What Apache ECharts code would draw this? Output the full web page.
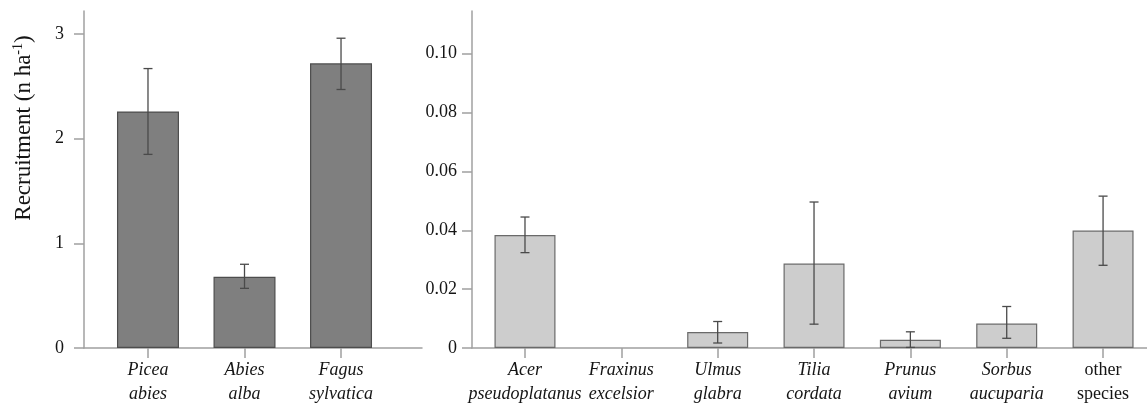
<!DOCTYPE html>
<html>
<head>
<meta charset="utf-8">
<script src="https://cdn.jsdelivr.net/npm/echarts@6/dist/echarts.min.js"></script>
<style>html,body{margin:0;padding:0;background:#fff}#c{width:1147px;height:406px}</style>
</head>
<body>
<div id="c"></div>
<script>
// ---- data ----
var leftCats = ['Picea abies', 'Abies alba', 'Fagus sylvatica'];
var leftMean = [2.26, 0.68, 2.72];
var leftLow  = [1.85, 0.57, 2.47];
var leftHigh = [2.67, 0.80, 2.96];
var leftTicks = [0, 1, 2, 3];

var rightCats = ['Acer pseudoplatanus', 'Fraxinus excelsior', 'Ulmus glabra', 'Tilia cordata', 'Prunus avium', 'Sorbus aucuparia', 'other species'];
var rightMean = [0.0384, 0, 0.0054, 0.0287, 0.0028, 0.0083, 0.0399];
var rightLow  = [0.0324, null, 0.0017, 0.0081, 0.0002, 0.0033, 0.0281];
var rightHigh = [0.0445, null, 0.0090, 0.0496, 0.0055, 0.0141, 0.0516];
var rightTicks = [0, 0.02, 0.04, 0.06, 0.08, 0.10];

var yTitle = 'Recruitment (n ha';

// ---- build ----
var FONT = 'Liberation Serif';
var AX = '#a0a0a0';
var TXT = '#151515';
function idx(arr) { return arr.map(function (_, i) { return i; }); }
function barData(m) {
  return m.map(function (v, i) {
    return v === 0 ? { value: [i, v], itemStyle: { borderWidth: 0 } } : [i, v];
  });
}
function errData(lo, hi) {
  var out = [];
  lo.forEach(function (v, i) { if (v != null && hi[i] != null) out.push([i, v, hi[i]]); });
  return out;
}
function catFormatter(cats) {
  return function (v) {
    var name = cats[Math.round(v)] || '';
    var parts = name.split(' ');
    var style = name === 'other species' ? 'n' : 'i';
    return parts.map(function (p) { return '{' + style + '|' + p + '}'; }).join('\n');
  };
}
function renderErr(params, api) {
  var x = api.value(0);
  var lo = api.coord([x, api.value(1)]);
  var hi = api.coord([x, api.value(2)]);
  var w = 4.5;
  var st = { stroke: '#4a4a4a', lineWidth: 1.3 };
  return {
    type: 'group',
    children: [
      { type: 'line', shape: { x1: hi[0], y1: hi[1], x2: lo[0], y2: lo[1] }, style: st },
      { type: 'line', shape: { x1: hi[0] - w, y1: hi[1], x2: hi[0] + w, y2: hi[1] }, style: st },
      { type: 'line', shape: { x1: lo[0] - w, y1: lo[1], x2: lo[0] + w, y2: lo[1] }, style: st }
    ]
  };
}
function xAxisDef(gi, cats, min, max) {
  return {
    type: 'value', gridIndex: gi, min: min, max: max,
    splitLine: { show: false },
    axisLine: { show: true, onZero: false, lineStyle: { color: AX, width: 1.5 } },
    axisTick: { show: true, inside: false, length: 10, customValues: idx(cats), lineStyle: { color: AX, width: 1.5 } },
    axisLabel: {
      customValues: idx(cats), margin: 10, formatter: catFormatter(cats),
      color: TXT, fontFamily: FONT, fontSize: 18, lineHeight: 24,
      rich: {
        i: { fontStyle: 'italic', fontFamily: FONT, fontSize: 18, lineHeight: 24, color: TXT },
        n: { fontStyle: 'normal', fontFamily: FONT, fontSize: 18, lineHeight: 24, color: TXT }
      }
    }
  };
}
function yAxisDef(gi, ticks, max, margin, fmt) {
  return {
    type: 'value', gridIndex: gi, min: 0, max: max,
    splitLine: { show: false },
    axisLine: { show: true, onZero: false, lineStyle: { color: AX, width: 1.5 } },
    axisTick: { show: true, length: 10, customValues: ticks, lineStyle: { color: AX, width: 1.5 } },
    axisLabel: { customValues: ticks, margin: margin, formatter: fmt, color: TXT, fontFamily: FONT, fontSize: 18 }
  };
}

var option = {
  animation: false,
  backgroundColor: '#fff',
  grid: [
    { left: 84, width: 338, top: 11, bottom: 56 },
    { left: 472, right: 0, top: 11, bottom: 56 }
  ],
  xAxis: [
    xAxisDef(0, leftCats, -0.663, 2.839),
    xAxisDef(1, rightCats, -0.55, 6.456)
  ],
  yAxis: [
    yAxisDef(0, leftTicks, 3.22, 20, function (v) { return String(v); }),
    yAxisDef(1, rightTicks, 0.1145, 15, function (v) { return v === 0 ? '0' : v.toFixed(2); })
  ],
  graphic: [{
    type: 'text',
    x: 24, y: 128,
    rotation: Math.PI / 2,
    style: {
      text: '{a|' + yTitle + '}{s|-1}{a|)}',
      align: 'center', verticalAlign: 'middle',
      fill: TXT,
      rich: {
        a: { fontFamily: FONT, fontSize: 23, fill: TXT },
        s: { fontFamily: FONT, fontSize: 14, fill: TXT, verticalAlign: 'top', padding: [0, 0, 11, 0] }
      }
    }
  }],
  series: [
    {
      type: 'bar', xAxisIndex: 0, yAxisIndex: 0, barWidth: 62,
      data: barData(leftMean),
      itemStyle: { color: '#7f7f7f', borderColor: '#4d4d4d', borderWidth: 1.2 }
    },
    {
      type: 'custom', xAxisIndex: 0, yAxisIndex: 0, z: 5,
      renderItem: renderErr, data: errData(leftLow, leftHigh)
    },
    {
      type: 'bar', xAxisIndex: 1, yAxisIndex: 1, barWidth: 61,
      data: barData(rightMean),
      itemStyle: { color: '#cdcdcd', borderColor: '#6a6a6a', borderWidth: 1.2 }
    },
    {
      type: 'custom', xAxisIndex: 1, yAxisIndex: 1, z: 5,
      renderItem: renderErr, data: errData(rightLow, rightHigh)
    }
  ]
};
var chart = echarts.init(document.getElementById('c'), null, { renderer: 'canvas' });
chart.setOption(option);
</script>
</body>
</html>
